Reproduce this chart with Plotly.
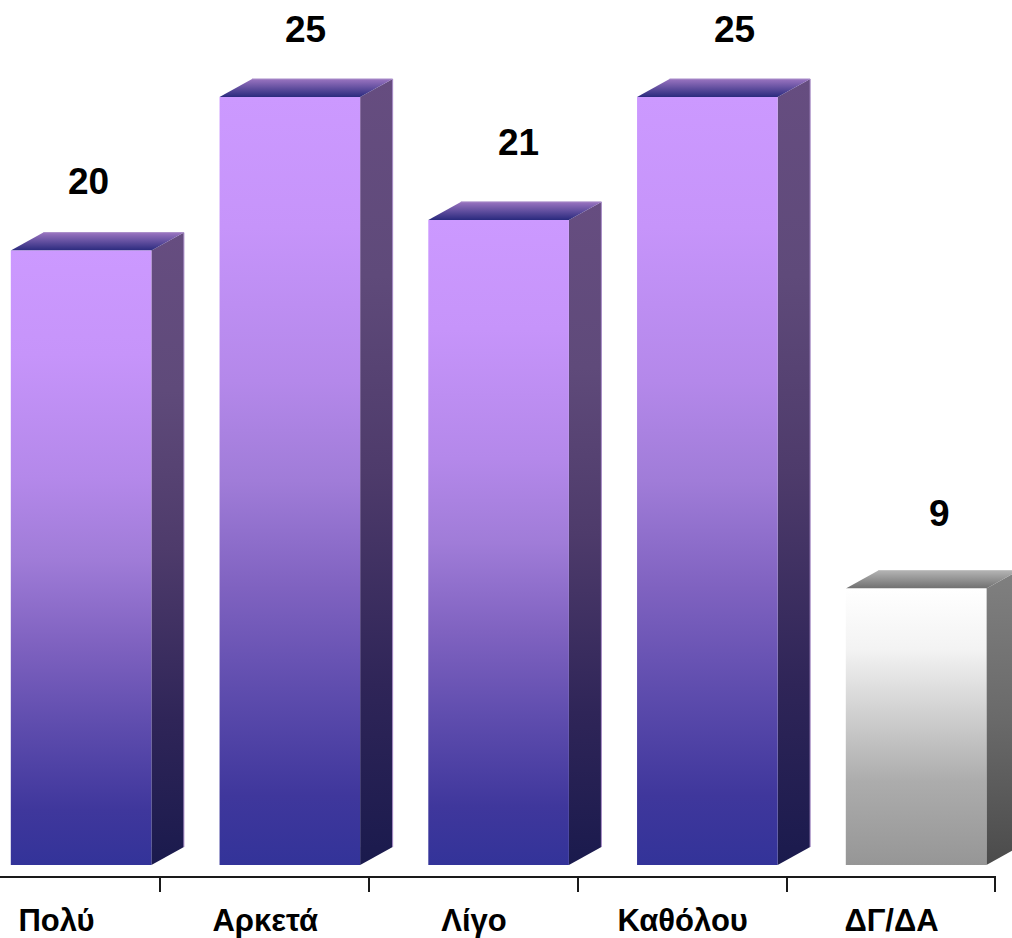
import plotly.graph_objects as go

categories = ["Πολύ", "Αρκετά", "Λίγο", "Καθόλου", "ΔΓ/ΔΑ"]
values = [20, 25, 21, 25, 9]

label_xshift = [7, 16, 20, 27, 23]
label_yshift = [69, 68, 77, 68, 75]

PURPLE = dict(
    front=[[0, "#333399"], [0.09, "#3F379C"], [0.23, "#5F4DAE"], [0.36, "#7F62C0"],
           [0.5, "#A07CD8"], [0.63, "#B488EA"], [0.83, "#C694FA"], [1, "#CC99FF"]],
    side=[[0, "#1A1A4D"], [0.23, "#2F2558"], [0.5, "#4E3B6B"], [0.75, "#5F4A7A"], [1, "#664D80"]],
    top=[[0, "#2A2A7E"], [1, "#9A74C0"]],
    edge="#A88CC8",
)
GREY = dict(
    front=[[0, "#969696"], [0.3, "#ACACAC"], [0.54, "#CFCFCF"], [0.78, "#F3F3F3"], [1, "#FFFFFF"]],
    side=[[0, "#4B4B4B"], [0.5, "#6A6A6A"], [1, "#808080"]],
    top=[[0, "#707070"], [1, "#B4B4B4"]],
    edge="#C0C0C0",
)
styles = [PURPLE, PURPLE, PURPLE, PURPLE, GREY]

PX_X = 208.75
PX_Y = 30.72
OFFSET = 25.0 / PX_X
HALF = 70.3 / PX_X
DX = 32.5 / PX_X
DY = 18 / PX_Y
FONT = "Liberation Sans, Arial, sans-serif"

fig = go.Figure()


def face(xs, ys, scale):
    fig.add_trace(go.Scatter(
        x=xs, y=ys, xaxis="x2", mode="lines", fill="toself",
        line=dict(width=0, color="rgba(0,0,0,0)"),
        fillgradient=dict(type="vertical", colorscale=scale, start=min(ys), stop=max(ys)),
        hoverinfo="skip", showlegend=False,
    ))


# keeps the category axis (ticks and labels) alive; the bars live on x2
fig.add_trace(go.Scatter(
    x=[i + 0.5 for i in range(len(categories))], y=[0] * len(categories),
    mode="markers", marker=dict(opacity=0), hoverinfo="skip", showlegend=False,
))

for i, (cat, v, st) in enumerate(zip(categories, values, styles)):
    c = i + OFFSET
    x0, x1 = c - HALF, c + HALF
    face([x1, x1 + DX, x1 + DX, x1, x1], [0, DY, v + DY, v, 0], st["side"])
    face([x0, x1, x1 + DX, x0 + DX, x0], [v, v, v + DY, v + DY, v], st["top"])
    face([x0, x1, x1, x0, x0], [0, 0, v, v, 0], st["front"])
    fig.add_trace(go.Scatter(
        x=[x0 + DX, x1 + DX, x1 + DX], y=[v + DY, v + DY, DY], xaxis="x2",
        mode="lines", line=dict(width=1, color=st["edge"]),
        hoverinfo="skip", showlegend=False,
    ))
    fig.add_annotation(
        xref="x2", yref="y",
        x=c, y=v, text=f"<b>{v}</b>", showarrow=False,
        xshift=label_xshift[i], yshift=label_yshift[i],
        font=dict(family=FONT, size=37, color="#000000"),
    )

fig.update_layout(
    width=1012, height=938, autosize=False,
    margin=dict(l=0, r=0, t=0, b=62, autoexpand=False),
    paper_bgcolor="#FFFFFF", plot_bgcolor="#FFFFFF",
    showlegend=False,
    xaxis=dict(
        domain=[0, 996 / 1012],
        range=[-56.1 / PX_X, (996 - 56.1) / PX_X],
        tickmode="array",
        tickvals=[i + 0.5 for i in range(len(categories))],
        ticktext=[f"<b>{c}</b>" for c in categories],
        ticklabelshift=-104,
        ticks="outside", ticklen=14, tickwidth=1.5, tickcolor="#1A1A1A",
        showline=True, linecolor="#1A1A1A", linewidth=2,
        showgrid=False, zeroline=False,
        tickangle=0, automargin=False,
        ticklabelstandoff=2,
        tickfont=dict(family=FONT, size=31, color="#000000"),
    ),
    xaxis2=dict(
        domain=[0, 1], anchor="y",
        range=[-56.1 / PX_X, (1012 - 56.1) / PX_X],
        visible=False, showgrid=False, zeroline=False, automargin=False,
    ),
    yaxis=dict(
        range=[-11 / PX_Y, 865 / PX_Y],
        visible=False, showgrid=False, zeroline=False, automargin=False,
    ),
)

fig.write_html(
    "out.html",
    config={"displayModeBar": False},
    post_script="document.body.style.margin='0';document.documentElement.style.overflow='hidden';",
)
